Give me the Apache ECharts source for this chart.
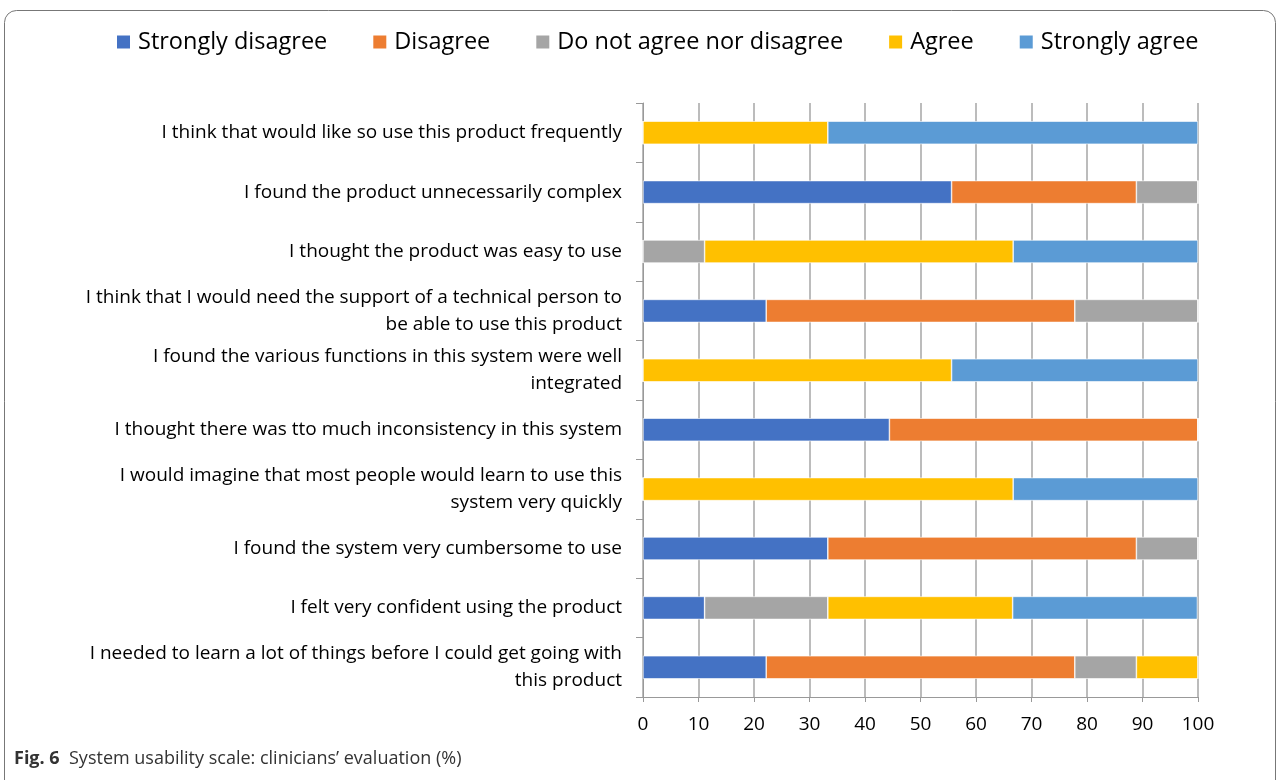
<!DOCTYPE html>
<html lang="en">
<head>
<meta charset="UTF-8">
<title>System usability scale</title>
<script src="https://cdn.jsdelivr.net/npm/echarts@6/dist/echarts.min.js"></script>
<style>
  html, body { margin: 0; padding: 0; background: #fff; }
  #chart { width: 1282px; height: 780px; }
</style>
</head>
<body>
<div id="chart"></div>
<script>
// statements, top to bottom
var categories = [
  'I think that would like so use this product frequently',
  'I found the product unnecessarily complex',
  'I thought the product was easy to use',
  'I think that I would need the support of a technical person to\nbe able to use this product',
  'I found the various functions in this system were well\nintegrated',
  'I thought there was tto much inconsistency in this system',
  'I would imagine that most people would learn to use this\nsystem very quickly',
  'I found the system very cumbersome to use',
  'I felt very confident using the product',
  'I needed to learn a lot of things before I could get going with\nthis product'
];
var stronglyDisagree = [0, 55.6, 0, 22.2, 0, 44.4, 0, 33.3, 11.1, 22.2];
var disagree         = [0, 33.3, 0, 55.6, 0, 55.6, 0, 55.6, 0, 55.6];
var neutral          = [0, 11.1, 11.1, 22.2, 0, 0, 0, 11.1, 22.2, 11.1];
var agree            = [33.3, 0, 55.6, 0, 55.6, 0, 66.7, 0, 33.3, 11.1];
var stronglyAgree    = [66.7, 0, 33.3, 0, 44.4, 0, 33.3, 0, 33.3, 0];
var xTicks = [0, 10, 20, 30, 40, 50, 60, 70, 80, 90, 100];

var chart = echarts.init(document.getElementById('chart'));

function bar(name, data, color) {
  return {
    name: name,
    type: 'bar',
    stack: 'total',
    data: data,
    barWidth: 23,
    itemStyle: { color: color, borderColor: '#fff', borderWidth: 0.6 }
  };
}

var option = {
  animation: false,
  textStyle: { fontFamily: 'Open Sans' },
  legend: {
    top: 30,
    left: 115,
    padding: 0,
    itemWidth: 15,
    itemHeight: 15,
    itemGap: 44,
    icon: 'rect',
    textStyle: { fontSize: 23.5, color: '#000', fontFamily: 'Open Sans', padding: [0, 0, 0, 2] },
    data: ['Strongly disagree', 'Disagree', 'Do not agree nor disagree', 'Agree', 'Strongly agree']
  },
  grid: { left: 643, right: 84, top: 103, bottom: 83, containLabel: false },
  xAxis: {
    type: 'value',
    min: 0,
    max: 100,
    interval: 10,
    axisLine: { show: true, lineStyle: { color: '#999', width: 1 } },
    axisTick: { show: true, length: 5, lineStyle: { color: '#999' } },
    splitLine: { show: true, lineStyle: { color: '#a6a6a6', width: 1.5 } },
    axisLabel: {
      fontSize: 19, color: '#000', margin: 18,
      formatter: function (v) { return xTicks.indexOf(v) >= 0 ? String(v) : ''; }
    }
  },
  yAxis: {
    type: 'category',
    inverse: true,
    data: categories,
    axisLine: { show: true, lineStyle: { color: '#999', width: 1 } },
    axisTick: { show: true, length: 7, lineStyle: { color: '#999' } },
    axisLabel: { fontSize: 19, color: '#000', margin: 21, lineHeight: 27, align: 'right' }
  },
  series: [
    bar('Strongly disagree', stronglyDisagree, '#4472C4'),
    bar('Disagree', disagree, '#ED7D31'),
    bar('Do not agree nor disagree', neutral, '#A5A5A5'),
    bar('Agree', agree, '#FFC000'),
    bar('Strongly agree', stronglyAgree, '#5B9BD5')
  ],
  graphic: [
    {
      type: 'rect',
      shape: { x: 4.5, y: 10.5, width: 1271, height: 790, r: 12 },
      style: { fill: 'none', stroke: '#777', lineWidth: 1 },
      silent: true
    },
    {
      type: 'text',
      left: 14,
      top: 750,
      style: {
        text: '{b|Fig. 6}  System usability scale: clinicians\u2019 evaluation (%)',
        font: '18px "Open Sans"',
        fill: '#333',
        rich: {
          b: { fontWeight: 'bold', fontSize: 18, fill: '#333', fontFamily: 'Open Sans' }
        }
      }
    }
  ]
};

chart.setOption(option);
</script>
</body>
</html>
